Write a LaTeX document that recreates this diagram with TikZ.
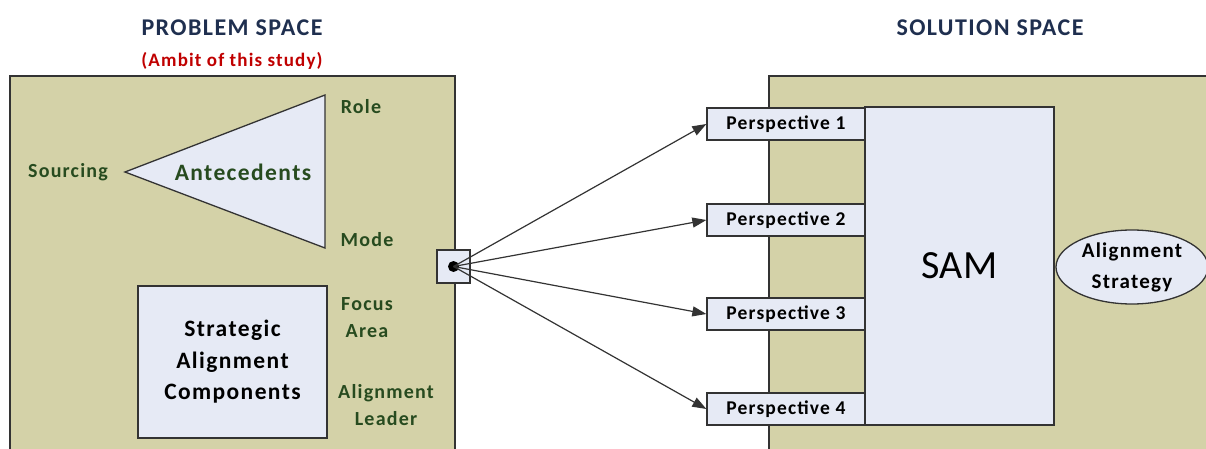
\documentclass[tikz,border=0pt]{standalone}
\usepackage{fontspec}
\setmainfont{Carlito}[LetterSpace=6]
\newfontfamily\plainfont{Carlito}
\usetikzlibrary{arrows.meta,shapes.geometric}
\definecolor{panel}{HTML}{D4D2A8}
\definecolor{boxfill}{HTML}{E6EAF5}
\definecolor{edge}{HTML}{333333}
\definecolor{labgreen}{HTML}{274B1F}
\definecolor{navy}{HTML}{1F2F4F}
\definecolor{ambit}{HTML}{C00000}
\tikzset{
  panelbox/.style={draw=edge, fill=panel, line width=1.2pt},
  lightbox/.style={draw=edge, fill=boxfill, line width=1.3pt},
  header/.style={font=\fontsize{24}{28}\selectfont\bfseries, text=navy},
  greenlab/.style={font=\fontsize{20}{27}\selectfont\bfseries, text=labgreen, align=center},
  persp/.style={lightbox, minimum width=158pt, minimum height=32pt, inner sep=0pt,
    font=\fontsize{19.5}{22}\selectfont\bfseries},
  fan/.style={draw=edge, line width=1.2pt, -{Triangle[length=14pt,width=10pt]}},
}
\begin{document}
\begin{tikzpicture}[x=1pt,y=-1pt]
\useasboundingbox (0,0) rectangle (1206,449);
\clip (0,0) rectangle (1206,449);
\fill[white] (0,0) rectangle (1206,449);

% headers
\node[header] (ph) at (232,28) {PROBLEM SPACE};
\node[font=\fontsize{19}{22}\selectfont\bfseries, text=ambit] (amb) at (232,61) {(Ambit of this study)};
\node[header] (sh) at (990,28) {SOLUTION SPACE};

% the two spaces
\draw[panelbox] (10,76) rectangle (455,470);
\draw[panelbox] (769,76) rectangle (1230,470);

% antecedents triangle
\draw[lightbox, line join=miter] (125,172) -- (325,95) -- (325,248) -- cycle;
\node[font=\fontsize{23.5}{26}\selectfont\bfseries, text=labgreen] (ante) at (243,172) {Antecedents};
\node[greenlab] (src) at (68,172) {Sourcing};
\node[greenlab] (role) at (361,107) {Role};
\node[greenlab] (mode) at (367,240) {Mode};

% strategic alignment components
\node[lightbox, minimum width=189pt, minimum height=152pt, inner sep=0pt,
  font=\fontsize{23.5}{31.5}\selectfont\bfseries, align=center] (sac) at (232.5,362)
  {Strategic\\Alignment\\Components};
\node[greenlab] (focus) at (367,317.5) {Focus\\Area};
\node[greenlab] (lead) at (386,405.5) {Alignment\\Leader};

% connector hub
\node[lightbox, minimum width=33pt, minimum height=33pt, inner sep=0pt] (hub) at (453.5,266.5) {};
\fill[black] (hub.center) circle (5.5pt);
\coordinate (dot) at (hub.center);

% SAM and its perspectives
\node[lightbox, minimum width=189pt, minimum height=318pt, inner sep=0pt,
  font=\plainfont\fontsize{40}{42}\selectfont] (sam) at (959.5,266) {SAM};
\node[persp] (p1) at (786,124) {Perspective 1};
\node[persp] (p2) at (786,220) {Perspective 2};
\node[persp] (p3) at (786,314) {Perspective 3};
\node[persp] (p4) at (786,409) {Perspective 4};

\node[ellipse, lightbox, minimum width=152pt, minimum height=74pt, inner sep=0pt,
  font=\fontsize{21}{31}\selectfont\bfseries, align=center] (strat) at (1132,267)
  {Alignment\\Strategy};

% arrows from the hub
\foreach \p in {p1,p2,p3,p4} \draw[fan] (dot) -- (\p.west);
\end{tikzpicture}
\end{document}
